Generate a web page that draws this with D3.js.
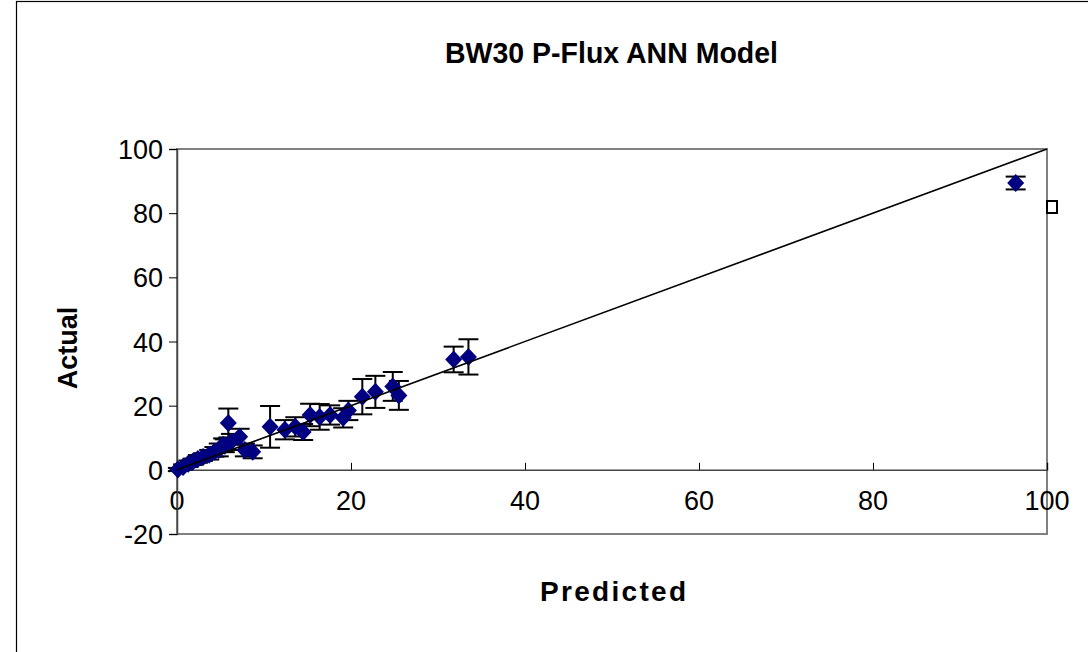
<!DOCTYPE html>
<html><head><meta charset="utf-8">
<script src="https://cdn.jsdelivr.net/npm/d3@7"></script>
<style>html,body{margin:0;padding:0;background:#fff;}svg{display:block;}</style>
</head><body>
<script>
const predicted = [0.1,0.7,1.3,1.8,2.4,3.0,3.7,4.3,4.8,5.3,5.5,5.9,6.2,7.2,7.8,8.7,10.7,12.4,13.6,14.5,15.3,16.4,17.6,19.1,19.7,21.3,22.8,24.8,25.5,31.8,33.5,96.4];
const actual    = [0.1,0.9,1.9,2.5,3.4,4.0,4.7,5.6,6.2,7.8,7.5,14.6,8.7,10.3,6.2,5.6,13.4,12.5,13.4,11.8,17.1,16.5,17.1,16.2,18.5,22.8,24.3,26.0,23.2,34.4,35.2,89.4];
const errorBar  = [0.5,0.8,1,1,1.2,1.2,1.5,1.5,2,2,2,4.5,2.5,2.5,2,2,6.5,3,3,2.5,3.5,4,3,3,3,5.5,5,4.5,4.5,4,5.5,2];
const fitLine = [[0,0],[100,100]];
const xTicks = [0,20,40,60,80,100];
const yTicks = [-20,0,20,40,60,80,100];

const W=1088,H=652;
const svg=d3.select("body").append("svg").attr("width",W).attr("height",H);
const font="'Liberation Sans', Arial, sans-serif";

// outer chart border
svg.append("rect").attr("x",16.5).attr("y",1.5).attr("width",W+10).attr("height",H+10)
  .attr("fill","none").attr("stroke","#000").attr("stroke-width",1.2);

const x=d3.scaleLinear().domain([0,100]).range([177,1047]);
const y=d3.scaleLinear().domain([-20,100]).range([534,149]);

// plot area border (gray)
svg.append("rect").attr("x",x(0)).attr("y",y(100)).attr("width",x(100)-x(0)).attr("height",y(-20)-y(100))
  .attr("fill","none").attr("stroke","#808080").attr("stroke-width",2);

// legend remnant box
svg.append("rect").attr("x",1047).attr("y",201).attr("width",10).attr("height",12)
  .attr("fill","#fff").attr("stroke","#000").attr("stroke-width",2);

// x axis at y=0, ticks upward
const xAx=svg.append("g").attr("transform",`translate(0,${y(0)})`)
  .call(d3.axisTop(x).tickValues(xTicks).tickSize(7).tickFormat(""));
xAx.select(".domain").attr("stroke","#444").attr("stroke-width",1.5);
xAx.selectAll(".tick line").attr("stroke","#000");
svg.append("g").selectAll("text").data(xTicks).join("text")
  .attr("x",d=>x(d)).attr("y",510).attr("text-anchor","middle")
  .attr("font-family",font).attr("font-size",27).text(d=>d);

// y axis
const yAx=svg.append("g").attr("transform",`translate(${x(0)},0)`)
  .call(d3.axisLeft(y).tickValues(yTicks).tickSize(8).tickFormat(""));
yAx.select(".domain").attr("stroke","#444").attr("stroke-width",1.5);
yAx.selectAll(".tick line").attr("stroke","#000");
svg.append("g").selectAll("text").data(yTicks).join("text")
  .attr("x",163).attr("y",d=>y(d)+10).attr("text-anchor","end")
  .attr("font-family",font).attr("font-size",27).text(d=>d);

// titles
svg.append("text").attr("x",445).attr("y",63)
  .attr("font-family",font).attr("font-weight","bold").attr("font-size",29)
  .attr("textLength",333).attr("lengthAdjust","spacingAndGlyphs").text("BW30 P-Flux ANN Model");
svg.append("text").attr("x",540).attr("y",601)
  .attr("font-family",font).attr("font-weight","bold").attr("font-size",28)
  .attr("textLength",146).attr("lengthAdjust","spacing").text("Predicted");
svg.append("text").attr("transform","translate(77,348) rotate(-90)").attr("text-anchor","middle")
  .attr("font-family",font).attr("font-weight","bold").attr("font-size",27).text("Actual");

const data=predicted.map((p,i)=>({p,a:actual[i],e:errorBar[i]}));

// error bars
const eb=svg.append("g").attr("stroke","#000").attr("stroke-width",2);
data.forEach(d=>{
  eb.append("line").attr("x1",x(d.p)).attr("x2",x(d.p)).attr("y1",y(d.a-d.e)).attr("y2",y(d.a+d.e));
  [d.a-d.e,d.a+d.e].forEach(v=>eb.append("line").attr("x1",x(d.p)-10).attr("x2",x(d.p)+10).attr("y1",y(v)).attr("y2",y(v)));
});

// diamonds
svg.append("g").selectAll("path").data(data).join("path")
  .attr("transform",d=>`translate(${x(d.p)},${y(d.a)})`)
  .attr("d","M0,-9L8.5,0L0,9L-8.5,0Z").attr("fill","#000080");

// fit line
svg.append("path").datum(fitLine).attr("d",d3.line().x(d=>x(d[0])).y(d=>y(d[1])))
  .attr("stroke","#000").attr("stroke-width",1.6).attr("fill","none");
</script>
</body></html>
